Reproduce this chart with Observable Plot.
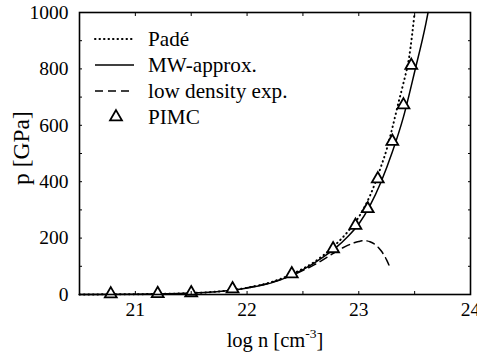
<!DOCTYPE html>
<html>
<head>
<meta charset="utf-8">
<script src="https://cdn.jsdelivr.net/npm/d3@7"></script>
<script src="https://cdn.jsdelivr.net/npm/@observablehq/plot@0.6"></script>
<style>
  html, body { margin: 0; padding: 0; background: white; }
  svg text { font-family: "Liberation Serif", "Times New Roman", Times, serif; }
</style>
</head>
<body>
<div id="chart"></div>
<script>
// Padé approximation (dotted)
const padeX = [20.5, 21.0, 21.5, 22.0, 22.2, 22.4, 22.6, 22.8, 22.9, 23.0, 23.1, 23.2, 23.25, 23.3, 23.36, 23.4, 23.45, 23.5];
const padeP = [0.3, 1, 5, 24, 42, 72, 115, 180, 222, 275, 350, 455, 515, 590, 688, 750, 840, 1000];
// MW-approx. (solid)
const mwX = [20.5, 21.0, 21.5, 21.9, 22.1, 22.3, 22.5, 22.7, 22.8, 22.9, 23.0, 23.1, 23.2, 23.3, 23.4, 23.5, 23.6, 23.62];
const mwP = [0.3, 1, 5, 17, 30, 52, 88, 138, 168, 205, 250, 315, 400, 505, 630, 790, 960, 1000];
// low density expansion (dashed)
const lowX = [22.0, 22.2, 22.4, 22.6, 22.7, 22.8, 22.9, 23.0, 23.05, 23.1, 23.15, 23.2, 23.25, 23.28];
const lowP = [24, 41, 68, 105, 128, 153, 174, 188, 191, 187, 176, 155, 122, 95];
// PIMC (triangles)
const pimcX = [20.78, 21.2, 21.5, 21.87, 22.4, 22.77, 22.97, 23.08, 23.17, 23.3, 23.4, 23.47];
const pimcP = [2, 3, 6, 20, 73, 162, 245, 304, 410, 543, 672, 812];

const xTicks = [20.5, 21, 21.5, 22, 22.5, 23, 23.5, 24];
const xLabels = [21, 22, 23, 24];
const yTicks = [0, 100, 200, 300, 400, 500, 600, 700, 800, 900, 1000];
const yLabels = [0, 200, 400, 600, 800, 1000];

const legendItems = ["Padé", "MW-approx.", "low density exp.", "PIMC"];

const zip = (xs, ys) => xs.map((x, i) => ({x, y: ys[i]}));
const pade = zip(padeX, padeP);
const mw = zip(mwX, mwP);
const low = zip(lowX, lowP);
const pimc = zip(pimcX, pimcP);

const chart = Plot.plot({
  width: 477,
  height: 360,
  marginLeft: 79,
  marginRight: 7,
  marginTop: 12,
  marginBottom: 66,
  style: {fontSize: "19.5px", background: "white", color: "black"},
  x: {domain: [20.5, 24]},
  y: {domain: [0, 1000]},
  marks: [
    Plot.line(mw, {x: "x", y: "y", stroke: "black", strokeWidth: 1.5, curve: "monotone-x"}),
    Plot.line(pade, {x: "x", y: "y", stroke: "black", strokeWidth: 2, strokeDasharray: "0.5,4", strokeLinecap: "round", curve: "monotone-x"}),
    Plot.line(low, {x: "x", y: "y", stroke: "black", strokeWidth: 1.5, strokeDasharray: "8,5", curve: "monotone-x"}),
    Plot.dot(pimc, {x: "x", y: "y", symbol: "triangle", r: 4.4, stroke: "black", fill: "white", strokeWidth: 1.8}),
    Plot.frame({stroke: "black", strokeWidth: 1.6}),
    Plot.axisX({anchor: "bottom", ticks: xTicks, tickSize: -3, tickFormat: () => "", label: null}),
    Plot.axisX({anchor: "top", ticks: xTicks, tickSize: -3, tickFormat: () => "", label: null}),
    Plot.axisX({anchor: "bottom", ticks: xLabels, tickSize: 0, tickPadding: 8, tickFormat: d3.format("d"), label: null, fontSize: 19.5}),
    Plot.axisY({anchor: "left", ticks: yTicks, tickSize: -3, tickFormat: () => "", label: null}),
    Plot.axisY({anchor: "right", ticks: yTicks, tickSize: -3, tickFormat: () => "", label: null}),
    Plot.axisY({anchor: "left", ticks: yLabels, tickSize: 0, tickPadding: 11, tickFormat: d3.format("d"), label: null, fontSize: 19.5})
  ]
});

document.getElementById("chart").appendChild(chart);

// Titles and legend
const svg = d3.select(chart);
svg.append("text")
  .attr("transform", "translate(21,148) rotate(-90)")
  .attr("text-anchor", "middle")
  .attr("dominant-baseline", "central")
  .attr("font-size", 23.5)
  .attr("fill", "black")
  .text("p [GPa]");

const xt = svg.append("text")
  .attr("x", 275)
  .attr("y", 347)
  .attr("text-anchor", "middle")
  .attr("font-size", 20.5)
  .attr("fill", "black");
xt.append("tspan").text("log n [cm");
xt.append("tspan").attr("dy", -9).attr("font-size", 13.5).text("-3");
xt.append("tspan").attr("dy", 9).text("]");

const leg = svg.append("g");
const rows = [39, 65, 91, 117];
const styles = [
  {dash: "0.5,4", w: 2, cap: "round"},
  {dash: null, w: 1.5, cap: "butt"},
  {dash: "8,5", w: 1.5, cap: "butt"}
];
legendItems.forEach((name, i) => {
  const y = rows[i];
  if (i < 3) {
    leg.append("line")
      .attr("x1", 95).attr("x2", 134).attr("y1", y).attr("y2", y)
      .attr("stroke", "black")
      .attr("stroke-width", styles[i].w)
      .attr("stroke-linecap", styles[i].cap)
      .attr("stroke-dasharray", styles[i].dash);
  } else {
    leg.append("path")
      .attr("transform", `translate(116,${y})`)
      .attr("d", d3.symbol(d3.symbolTriangle, Math.PI * 4.4 * 4.4)())
      .attr("fill", "white").attr("stroke", "black").attr("stroke-width", 1.8);
  }
  leg.append("text")
    .attr("x", 148).attr("y", y)
    .attr("text-anchor", "start")
    .attr("dominant-baseline", "central")
    .attr("font-size", 21.2)
    .attr("fill", "black")
    .text(name);
});
</script>
</body>
</html>
